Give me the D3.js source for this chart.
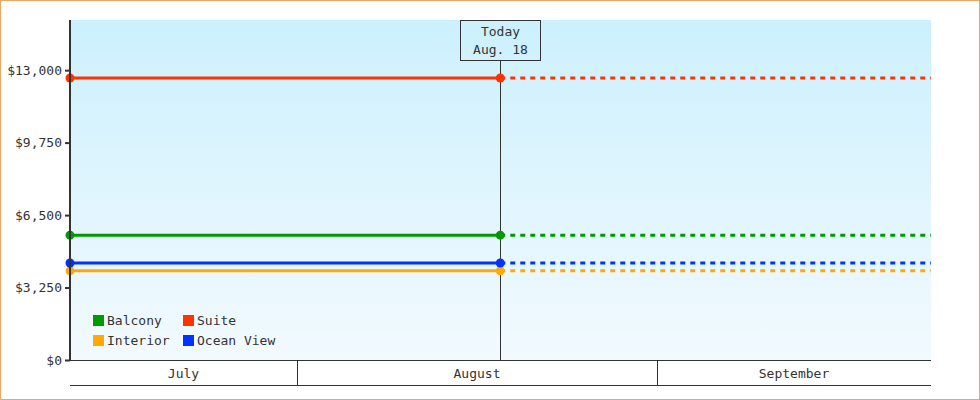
<!DOCTYPE html>
<html>
<head>
<meta charset="utf-8">
<script src="https://cdn.jsdelivr.net/npm/d3@7"></script>
<style>
  body { margin: 0; background: #fff; }
  text { font-family: "DejaVu Sans Mono", monospace; font-size: 13px; fill: #333; }
</style>
</head>
<body>
<div id="chart"></div>
<script>
// Price series: value at the start of the window and at "today"
var seriesNames = ["Balcony", "Suite", "Interior", "Ocean View"];
var seriesColors = ["#009900", "#ff3300", "#ffaa00", "#0033ff"];
var pointDates = ["2013-07-12T11:00", "2013-08-18T12:00"];
var balcony = [5600, 5600];
var suite = [12650, 12650];
var interior = [4000, 4000];
var oceanView = [4350, 4350];
var seriesValues = [balcony, suite, interior, oceanView];

var windowEnd = "2013-09-24T14:00";
var todayDate = "2013-08-18T12:00";
var todayLabel = ["Today", "Aug. 18"];
var yTicks = [0, 3250, 6500, 9750, 13000];
var yMax = 15250;

function drawChart() {
    var width = 980, height = 400;
    var left = 70, right = 931, top = 20, bottom = 360;
    var parse = d3.utcParse("%Y-%m-%dT%H:%M");

    var svg = d3.select("#chart").append("svg")
        .attr("width", width)
        .attr("height", height);

    // Frame
    svg.append("rect")
        .attr("x", 0.5).attr("y", 0.5)
        .attr("width", width - 1).attr("height", height - 1)
        .attr("fill", "none")
        .attr("stroke", "#e9a964");

    var x = d3.scaleUtc()
        .domain([parse(pointDates[0]), parse(windowEnd)])
        .range([left, right]);
    var y = d3.scaleLinear()
        .domain([0, yMax])
        .range([bottom, top]);

    // Plot background gradient
    var grad = svg.append("defs").append("linearGradient")
        .attr("id", "bg").attr("x1", 0).attr("y1", 0).attr("x2", 0).attr("y2", 1);
    grad.append("stop").attr("offset", "0%").attr("stop-color", "#ccf0fd");
    grad.append("stop").attr("offset", "100%").attr("stop-color", "#f2faff");
    svg.append("rect")
        .attr("x", left).attr("y", top)
        .attr("width", right - left).attr("height", bottom - top)
        .attr("fill", "url(#bg)");

    // Month bands under the plot
    var months = d3.utcMonth.range(d3.utcMonth.floor(x.domain()[0]), x.domain()[1]);
    var bands = svg.append("g");
    bands.append("line")
        .attr("x1", left).attr("x2", right).attr("y1", bottom + 0.5).attr("y2", bottom + 0.5)
        .attr("stroke", "#333");
    bands.append("line")
        .attr("x1", left).attr("x2", right).attr("y1", bottom + 25.5).attr("y2", bottom + 25.5)
        .attr("stroke", "#333");
    months.forEach(function(m, i) {
        var x0 = Math.max(left, x(m));
        var x1 = Math.min(right, x(d3.utcMonth.offset(m, 1)));
        if (i > 0) {
            bands.append("line")
                .attr("x1", Math.round(x0) + 0.5).attr("x2", Math.round(x0) + 0.5)
                .attr("y1", bottom).attr("y2", bottom + 25)
                .attr("stroke", "#333");
        }
        bands.append("text")
            .attr("x", (x0 + x1) / 2)
            .attr("y", bottom + 14)
            .attr("text-anchor", "middle")
            .attr("dominant-baseline", "middle")
            .text(d3.utcFormat("%B")(m));
    });

    // Today marker
    var tx = Math.round(x(parse(todayDate))) + 0.5;
    svg.append("line")
        .attr("x1", tx).attr("x2", tx).attr("y1", top + 40).attr("y2", bottom)
        .attr("stroke", "#333");
    svg.append("rect")
        .attr("x", tx - 40).attr("y", top + 0.5)
        .attr("width", 80).attr("height", 40)
        .attr("fill", "none").attr("stroke", "#333");
    todayLabel.forEach(function(t, i) {
        svg.append("text")
            .attr("x", tx).attr("y", top + 12.5 + i * 18)
            .attr("text-anchor", "middle")
            .attr("dominant-baseline", "middle")
            .text(t);
    });

    // Series lines
    var line = d3.line()
        .x(function(d) { return x(d[0]); })
        .y(function(d) { return y(d[1]); });

    seriesValues.forEach(function(vals, i) {
        var pts = pointDates.map(function(d, j) { return [parse(d), vals[j]]; });
        var last = pts[pts.length - 1];
        svg.append("path")
            .attr("d", line([last, [parse(windowEnd), last[1]]]))
            .attr("fill", "none")
            .attr("stroke", seriesColors[i])
            .attr("stroke-width", 3)
            .attr("stroke-dasharray", "5,5");
        svg.append("path")
            .attr("d", line(pts))
            .attr("fill", "none")
            .attr("stroke", seriesColors[i])
            .attr("stroke-width", 3);
        svg.selectAll(null)
            .data(pts)
            .enter().append("circle")
            .attr("cx", function(d) { return x(d[0]); })
            .attr("cy", function(d) { return y(d[1]); })
            .attr("r", 4.5)
            .attr("fill", seriesColors[i]);
    });

    // Y axis
    var yAxis = svg.append("g")
        .attr("transform", "translate(" + left + ",0)")
        .call(d3.axisLeft(y)
            .tickValues(yTicks)
            .tickSize(5)
            .tickPadding(3)
            .tickFormat(d3.format("$,")));
    yAxis.select(".domain").remove();
    yAxis.selectAll(".tick line").attr("stroke", "#333").attr("stroke-width", 2);
    yAxis.selectAll(".tick text")
        .attr("font-family", null).attr("font-size", null)
        .style("fill", "#333");
    svg.append("line")
        .attr("x1", left).attr("x2", left).attr("y1", top).attr("y2", bottom + 1)
        .attr("stroke", "#333").attr("stroke-width", 2);

    // Legend, two columns
    var legend = svg.append("g");
    seriesNames.forEach(function(name, i) {
        var lx = 93 + (i % 2) * 90;
        var ly = 315 + Math.floor(i / 2) * 20;
        legend.append("rect")
            .attr("x", lx).attr("y", ly)
            .attr("width", 11).attr("height", 11)
            .attr("fill", seriesColors[i]);
        legend.append("text")
            .attr("x", lx + 14).attr("y", ly + 6)
            .attr("dominant-baseline", "middle")
            .text(name);
    });
}

drawChart();
</script>
</body>
</html>
